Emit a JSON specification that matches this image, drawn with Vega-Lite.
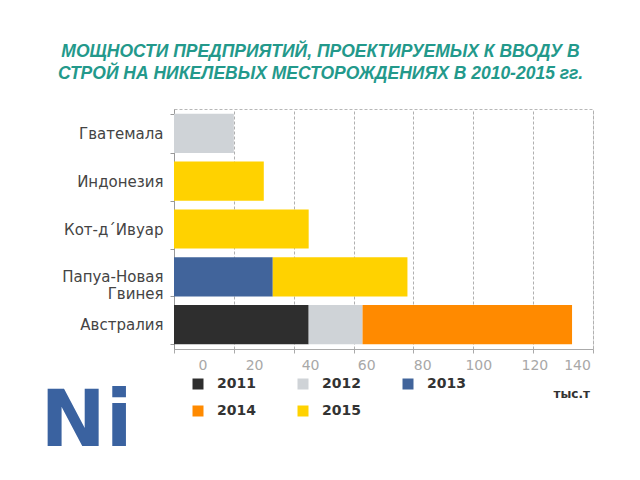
{
  "$schema": "https://vega.github.io/schema/vega-lite/v6.json",
  "autosize": {"type": "none"},
  "width": 419,
  "height": 240,
  "padding": {"left": 174, "top": 109, "right": 47, "bottom": 131},
  "background": "white",
  "title": {
    "text": ["МОЩНОСТИ ПРЕДПРИЯТИЙ, ПРОЕКТИРУЕМЫХ К ВВОДУ В", "СТРОЙ НА НИКЕЛЕВЫХ МЕСТОРОЖДЕНИЯХ В 2010-2015 гг."],
    "anchor": "middle",
    "dx": -63,
    "offset": 20,
    "font": "Liberation Sans",
    "fontSize": 17.5,
    "fontWeight": "bold",
    "fontStyle": "italic",
    "color": "#23998b",
    "lineHeight": 22
  },
  "data": {
    "values": [
      {"country": "Гватемала", "year": "2012", "value": 20},
      {"country": "Индонезия", "year": "2015", "value": 30},
      {"country": "Кот-д´Ивуар", "year": "2015", "value": 45},
      {"country": "Папуа-Новая\nГвинея", "year": "2013", "value": 33},
      {"country": "Папуа-Новая\nГвинея", "year": "2015", "value": 45},
      {"country": "Австралия", "year": "2011", "value": 45},
      {"country": "Австралия", "year": "2012", "value": 18},
      {"country": "Австралия", "year": "2014", "value": 70}
    ]
  },
  "config": {
    "view": {"stroke": "#b8b8b8", "strokeDash": [3, 2], "strokeWidth": 1}
  },
  "mark": {"type": "bar"},
  "encoding": {
    "y": {
      "field": "country",
      "type": "nominal",
      "sort": ["Гватемала", "Индонезия", "Кот-д´Ивуар", "Папуа-Новая\nГвинея", "Австралия"],
      "scale": {"paddingInner": 0.18, "paddingOuter": 0.1},
      "axis": {
        "title": "Ni",
        "titleX": -88,
        "titleY": 336,
        "titleAngle": 0,
        "titleAlign": "center",
        "titleBaseline": "alphabetic",
        "titleFont": "DejaVu Sans",
        "titleFontSize": 78,
        "titleFontWeight": "bold",
        "titleColor": "#3a62a0",
        "labelExpr": "split(datum.label, '\\n')",
        "labelFont": "DejaVu Sans",
        "labelFontSize": 15,
        "labelColor": "#444",
        "labelPadding": 7,
        "labelLineHeight": 17,
        "tickBand": "extent",
        "tickSize": 4,
        "tickColor": "#999",
        "domainColor": "#999",
        "grid": false
      }
    },
    "x": {
      "field": "value",
      "type": "quantitative",
      "stack": "zero",
      "scale": {"domain": [0, 140], "nice": false},
      "axis": {
        "values": [0, 20, 40, 60, 80, 100, 120, 140],
        "title": "тыс.т",
        "titleX": 379,
        "titleY": 44,
        "titleAlign": "left",
        "titleBaseline": "middle",
        "titleFont": "DejaVu Sans",
        "titleFontSize": 12,
        "titleFontWeight": "bold",
        "titleColor": "#333",
        "labelFont": "DejaVu Sans",
        "labelFontSize": 14,
        "labelColor": "#a8a8a8",
        "labelOffset": {"expr": "24 - datum.value * 0.19"},
        "labelPadding": 5,
        "tickSize": 4,
        "tickColor": "#aaa",
        "domainColor": "#aaa",
        "grid": true,
        "gridColor": "#b0b0b0",
        "gridDash": [3, 2],
        "gridWidth": 1
      }
    },
    "color": {
      "field": "year",
      "type": "nominal",
      "scale": {
        "domain": ["2011", "2012", "2013", "2014", "2015"],
        "range": ["#2e2e2e", "#cfd3d7", "#41649b", "#ff8a00", "#ffd200"]
      },
      "legend": {
        "orient": "none",
        "legendX": 17,
        "legendY": 268,
        "direction": "horizontal",
        "columns": 3,
        "columnPadding": 40,
        "rowPadding": 13,
        "title": null,
        "symbolType": "square",
        "symbolSize": 121,
        "symbolStrokeWidth": 0,
        "labelFont": "DejaVu Sans",
        "labelFontSize": 14,
        "labelFontWeight": "bold",
        "labelColor": "#333",
        "labelOffset": 12,
        "padding": 0
      }
    },
    "order": {"field": "year", "type": "nominal", "sort": "ascending"}
  }
}
